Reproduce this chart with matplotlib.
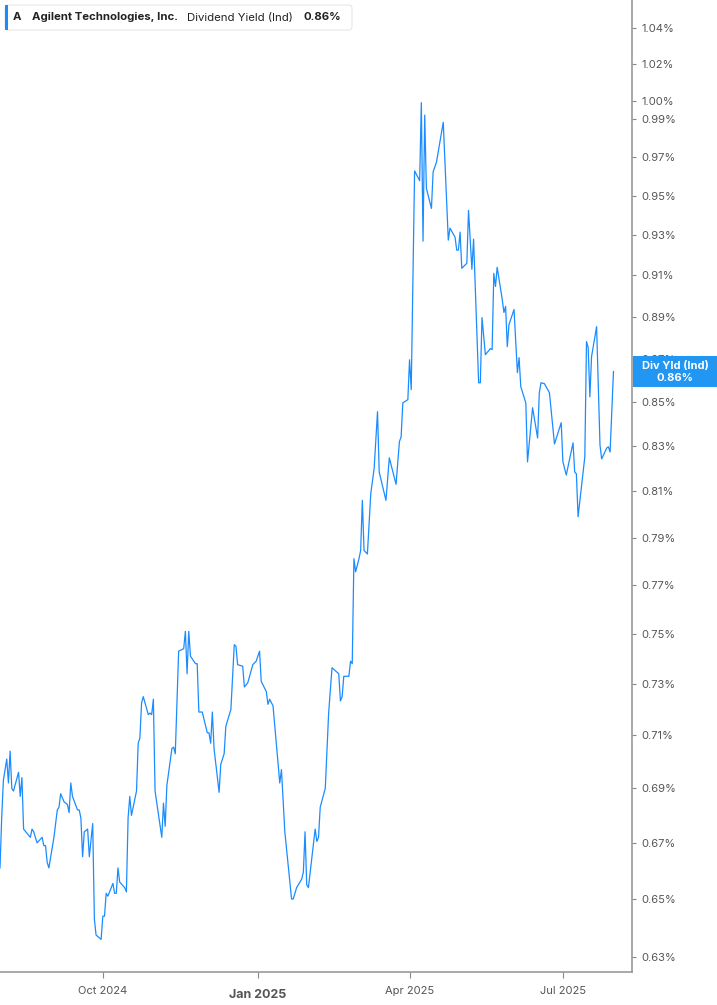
import matplotlib
matplotlib.use("Agg")
import matplotlib.pyplot as plt
import matplotlib.ticker as mticker
from matplotlib.patches import FancyBboxPatch, Rectangle
import pandas as pd

# Agilent (A) dividend yield
aug = ["2024-08-01", "2024-08-02", "2024-08-03", "2024-08-05", "2024-08-06", "2024-08-07",
       "2024-08-08", "2024-08-09", "2024-08-12", "2024-08-13", "2024-08-14", "2024-08-15",
       "2024-08-19", "2024-08-20", "2024-08-21", "2024-08-23", "2024-08-26", "2024-08-27",
       "2024-08-28", "2024-08-29", "2024-08-30"]
sep = ["2024-09-02", "2024-09-04", "2024-09-05", "2024-09-06", "2024-09-08", "2024-09-10",
       "2024-09-11", "2024-09-12", "2024-09-13", "2024-09-16", "2024-09-17", "2024-09-18",
       "2024-09-19", "2024-09-20", "2024-09-22", "2024-09-23", "2024-09-25", "2024-09-26",
       "2024-09-27", "2024-09-30"]
oct_ = ["2024-10-01", "2024-10-02", "2024-10-03", "2024-10-04", "2024-10-07", "2024-10-08",
        "2024-10-09", "2024-10-10", "2024-10-11", "2024-10-14", "2024-10-15", "2024-10-16",
        "2024-10-17", "2024-10-18", "2024-10-21", "2024-10-22", "2024-10-23", "2024-10-24",
        "2024-10-25", "2024-10-28", "2024-10-29", "2024-10-30", "2024-10-31"]
nov = ["2024-11-01", "2024-11-05", "2024-11-06", "2024-11-07", "2024-11-08", "2024-11-11",
       "2024-11-12", "2024-11-13", "2024-11-15", "2024-11-18", "2024-11-19", "2024-11-20",
       "2024-11-21", "2024-11-22", "2024-11-25", "2024-11-26", "2024-11-27", "2024-11-29"]
dec = ["2024-12-02", "2024-12-03", "2024-12-04", "2024-12-05", "2024-12-06", "2024-12-09",
       "2024-12-10", "2024-12-12", "2024-12-13", "2024-12-16", "2024-12-18", "2024-12-19",
       "2024-12-20", "2024-12-23", "2024-12-24", "2024-12-26", "2024-12-29", "2024-12-31"]
jan = ["2025-01-02", "2025-01-03", "2025-01-06", "2025-01-07", "2025-01-08", "2025-01-10",
       "2025-01-14", "2025-01-15", "2025-01-17", "2025-01-21", "2025-01-22", "2025-01-24",
       "2025-01-27", "2025-01-28", "2025-01-29", "2025-01-30", "2025-01-31"]
feb = ["2025-02-04", "2025-02-05", "2025-02-06", "2025-02-07", "2025-02-10", "2025-02-12",
       "2025-02-14", "2025-02-18", "2025-02-19", "2025-02-20", "2025-02-21", "2025-02-24",
       "2025-02-25", "2025-02-26", "2025-02-27", "2025-02-28"]
mar = ["2025-03-02", "2025-03-03", "2025-03-04", "2025-03-05", "2025-03-07", "2025-03-09",
       "2025-03-11", "2025-03-13", "2025-03-14", "2025-03-18", "2025-03-20", "2025-03-24",
       "2025-03-26", "2025-03-27", "2025-03-28", "2025-03-31"]
apr = ["2025-04-01", "2025-04-02", "2025-04-04", "2025-04-07", "2025-04-08", "2025-04-09",
       "2025-04-10", "2025-04-11", "2025-04-14", "2025-04-15", "2025-04-17", "2025-04-21",
       "2025-04-24", "2025-04-25", "2025-04-28", "2025-04-29", "2025-04-30"]
may = ["2025-05-01", "2025-05-02", "2025-05-05", "2025-05-06", "2025-05-08", "2025-05-09",
       "2025-05-12", "2025-05-13", "2025-05-14", "2025-05-16", "2025-05-19", "2025-05-20",
       "2025-05-21", "2025-05-22", "2025-05-23", "2025-05-26", "2025-05-27", "2025-05-28",
       "2025-05-29", "2025-05-30"]
jun = ["2025-06-02", "2025-06-04", "2025-06-05", "2025-06-06", "2025-06-09", "2025-06-10",
       "2025-06-13", "2025-06-16", "2025-06-17", "2025-06-18", "2025-06-20", "2025-06-23",
       "2025-06-26", "2025-06-30"]
jul = ["2025-07-01", "2025-07-03", "2025-07-07", "2025-07-08", "2025-07-09", "2025-07-10",
       "2025-07-14", "2025-07-15", "2025-07-16", "2025-07-17", "2025-07-18", "2025-07-21",
       "2025-07-23", "2025-07-24", "2025-07-27", "2025-07-28", "2025-07-29", "2025-07-31"]
dates = aug + sep + oct_ + nov + dec + jan + feb + mar + apr + may + jun + jul

yield_pct = [
    # Aug
    0.661, 0.679, 0.693, 0.701, 0.692, 0.704, 0.690, 0.689, 0.696, 0.687, 0.694,
    0.675, 0.672, 0.675, 0.674, 0.670, 0.672, 0.669, 0.669, 0.663, 0.661,
    # Sep
    0.672, 0.682, 0.683, 0.688, 0.685, 0.684, 0.681, 0.692, 0.687, 0.682,
    0.682, 0.679, 0.665, 0.674, 0.675, 0.665, 0.677, 0.643, 0.6375, 0.636,
    # Oct
    0.644, 0.644, 0.652, 0.651, 0.6555, 0.652, 0.652, 0.661, 0.656, 0.654, 0.6525,
    0.679, 0.687, 0.680, 0.689, 0.707, 0.709, 0.7225, 0.725, 0.718, 0.7186, 0.718, 0.724,
    # Nov
    0.689, 0.672, 0.6845, 0.676, 0.691, 0.705, 0.7055, 0.703, 0.743,
    0.744, 0.751, 0.734, 0.751, 0.741, 0.738, 0.738, 0.719, 0.719,
    # Dec
    0.711, 0.711, 0.707, 0.719, 0.705, 0.6885, 0.699, 0.703, 0.7135,
    0.720, 0.7456, 0.745, 0.7376, 0.737, 0.7288, 0.7304, 0.7376, 0.739,
    # Jan
    0.743, 0.731, 0.727, 0.722, 0.724, 0.7214, 0.692, 0.697, 0.674,
    0.650, 0.650, 0.654, 0.657, 0.6595, 0.674, 0.655, 0.654,
    # Feb
    0.675, 0.6705, 0.672, 0.683, 0.690, 0.7186, 0.7364, 0.734,
    0.7233, 0.725, 0.733, 0.733, 0.739, 0.738, 0.781, 0.7755,
    # Mar
    0.781, 0.7845, 0.806, 0.7845, 0.783, 0.809, 0.820, 0.8455,
    0.8184, 0.806, 0.8247, 0.813, 0.832, 0.834, 0.8495, 0.851,
    # Apr
    0.8695, 0.8556, 0.9628, 0.9577, 0.9989, 0.927, 0.9922, 0.9538, 0.9435,
    0.9623, 0.9674, 0.9884, 0.9275, 0.9335, 0.929, 0.9225, 0.9225,
    # May
    0.9315, 0.9135, 0.916, 0.9425, 0.913, 0.928, 0.8588, 0.8588, 0.8895, 0.8719,
    0.8748, 0.8743, 0.911, 0.9046, 0.914, 0.8983, 0.892, 0.8949, 0.8757, 0.8862,
    # Jun
    0.8934, 0.8635, 0.8705, 0.857, 0.8495, 0.8229, 0.8473,
    0.8336, 0.8542, 0.8588, 0.8584, 0.8542, 0.8309, 0.8405,
    # Jul
    0.8229, 0.8171, 0.8314, 0.8184, 0.8176, 0.7989, 0.8251, 0.8781, 0.8752,
    0.8523, 0.871, 0.8852, 0.8305, 0.8242, 0.8291, 0.8296, 0.8273, 0.864,
]

y_ticks = [0.63, 0.65, 0.67, 0.69, 0.71, 0.73, 0.75, 0.77, 0.79, 0.81, 0.83,
           0.85, 0.87, 0.89, 0.91, 0.93, 0.95, 0.97, 0.99, 1.00, 1.02, 1.04]
x_ticks = ["2024-10-01", "2025-01-01", "2025-04-01", "2025-07-01"]
x_labels = ["Oct 2024", "Jan 2025", "Apr 2025", "Jul 2025"]

ticker_symbol = "A"
company = "Agilent Technologies, Inc."
metric = "Dividend Yield (Ind)"
last_label = "0.86%"
flag_title = "Div Yld (Ind)"

LINE = "#1a8cff"
GREY = "#555555"
W, H = 717, 1005

plt.rcParams["font.family"] = ["Inter", "DejaVu Sans"]

fig = plt.figure(figsize=(W / 100, H / 100), dpi=100)
ax = fig.add_axes([0.0, 33 / H, 632 / W, 972 / H])

x = pd.to_datetime(dates)
ax.plot(x, yield_pct, color=LINE, lw=0.9)

ax.set_yscale("log")
ax.set_ylim(0.6249, 1.0558)
ax.set_xlim(pd.Timestamp("2024-08-01"), pd.Timestamp("2025-08-11"))

ax.yaxis.tick_right()
ax.yaxis.set_major_locator(mticker.FixedLocator(y_ticks))
ax.yaxis.set_minor_locator(mticker.NullLocator())
ax.yaxis.set_major_formatter(mticker.FuncFormatter(lambda v, p: f"{v:.2f}%"))
ax.tick_params(axis="y", which="major", length=3, width=0.8, color="#888888",
               labelsize=8, labelcolor=GREY, pad=4)

ax.set_xticks(pd.to_datetime(x_ticks))
ax.set_xticklabels(x_labels)
ax.tick_params(axis="x", length=4, width=0.8, color="#888888",
               labelsize=8, labelcolor=GREY, pad=6)
for lbl in ax.get_xticklabels():
    if lbl.get_text().startswith("Jan"):
        lbl.set_fontweight("bold")
        lbl.set_fontsize(9)
        lbl.set_y(-0.003)

for side in ["top", "left"]:
    ax.spines[side].set_visible(False)
for side in ["right", "bottom"]:
    ax.spines[side].set_color("#999999")
    ax.spines[side].set_linewidth(1.2)

# header box top-left
box = FancyBboxPatch((5 / W, 1 - 30 / H), 347 / W, 25 / H,
                     boxstyle="round,pad=0,rounding_size=0.004",
                     transform=fig.transFigure, facecolor="white",
                     edgecolor="#e6e6e6", lw=0.8, zorder=5)
fig.patches.append(box)
fig.patches.append(Rectangle((5 / W, 1 - 30 / H), 3 / W, 25 / H,
                             transform=fig.transFigure, facecolor=LINE,
                             edgecolor="none", zorder=6))
ty = 1 - 17.5 / H
fs = 8.2
fig.text(13 / W, ty, ticker_symbol, fontsize=fs, fontweight="bold",
         color="#222222", va="center", zorder=7)
fig.text(32 / W, ty, company, fontsize=fs, fontweight="bold",
         color="#222222", va="center", zorder=7)
fig.text(187 / W, ty, metric, fontsize=fs, color="#222222", va="center", zorder=7)
fig.text(304 / W, ty, last_label, fontsize=fs, fontweight="bold",
         color="#222222", va="center", zorder=7)

# last value flag on the right axis
_, y_px = ax.get_yaxis_transform().transform((1.0, yield_pct[-1]))
yc = y_px / H
flag_h = 31 / H
fig.patches.append(Rectangle((633 / W, yc - flag_h / 2), 84 / W, flag_h,
                             transform=fig.transFigure, facecolor="#2196f3",
                             edgecolor="none", zorder=8))
fig.text(675 / W, yc + 6 / H, flag_title, fontsize=8, fontweight="bold",
         color="white", ha="center", va="center", zorder=9)
fig.text(675 / W, yc - 6 / H, last_label, fontsize=8, fontweight="bold",
         color="white", ha="center", va="center", zorder=9)

fig.savefig("out.png", dpi=100, facecolor="white")
